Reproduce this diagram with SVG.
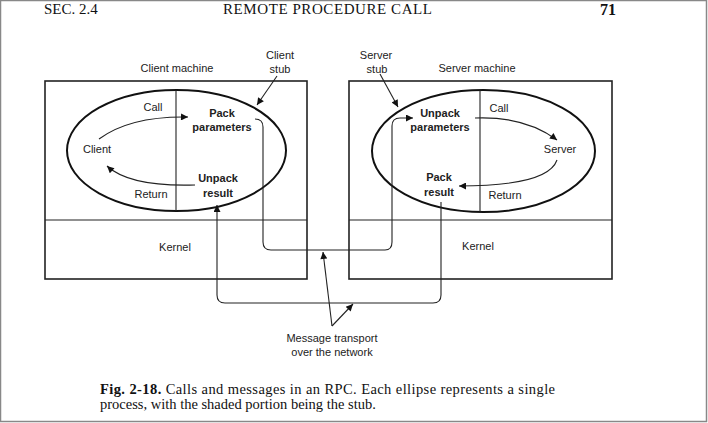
<svg xmlns="http://www.w3.org/2000/svg" width="708" height="423" viewBox="0 0 708 423">
<defs>
<marker id="ah" viewBox="0 0 10 10" refX="10" refY="5" markerWidth="9" markerHeight="7" markerUnits="userSpaceOnUse" orient="auto">
<path d="M0,0 L10,5 L0,10 z" fill="#111"/>
</marker>
<style>
.box{fill:none;stroke:#222;stroke-width:1.6}
.thin{fill:none;stroke:#222;stroke-width:1.1}
.ell{fill:none;stroke:#111;stroke-width:2}
.con{fill:none;stroke:#222;stroke-width:1.1}
.arr{fill:none;stroke:#222;stroke-width:1.1;marker-end:url(#ah)}
.lbl{font-family:"Liberation Sans",Arial,sans-serif;font-size:11px;fill:#222;text-anchor:middle}
.b{font-weight:bold}
.hdr{font-family:"Liberation Serif","Times New Roman",serif;font-size:15px;fill:#111}
.cap{font-family:"Liberation Serif","Times New Roman",serif;font-size:14.5px;fill:#111}
</style>
</defs>
<rect x="0.5" y="0.5" width="706" height="421" fill="#fff" stroke="#888" stroke-width="1.5"/>
<g id="header">
<text class="hdr" x="44" y="14">SEC.  2.4</text>
<text class="hdr" x="223" y="14" textLength="209">REMOTE PROCEDURE CALL</text>
<text class="hdr" x="600" y="15" style="font-weight:bold;font-size:16px">71</text>
</g>
<g id="client-machine">
<rect class="box" x="45" y="81" width="262" height="198"/>
<line class="thin" x1="45" y1="220" x2="307" y2="220"/>
<text class="lbl" x="177" y="72">Client machine</text>
<text class="lbl" x="175" y="251">Kernel</text>
</g>
<g id="client-process">
<ellipse class="ell" cx="176.5" cy="150.5" rx="109.5" ry="60.5"/>
<line class="thin" x1="176" y1="90" x2="176" y2="211"/>
<text class="lbl" x="97" y="153">Client</text>
<text class="lbl" x="153" y="111">Call</text>
<text class="lbl" x="151" y="198">Return</text>
<text class="lbl b" x="222" y="117">Pack</text>
<text class="lbl b" x="222" y="131">parameters</text>
<text class="lbl b" x="218" y="182">Unpack</text>
<text class="lbl b" x="218" y="197">result</text>
</g>
<g id="client-stub">
<text class="lbl" x="280" y="59">Client</text>
<text class="lbl" x="280" y="73">stub</text>
</g>
<g id="server-machine">
<rect class="box" x="349" y="81" width="263" height="198"/>
<line class="thin" x1="349" y1="220" x2="612" y2="220"/>
<text class="lbl" x="477" y="72">Server machine</text>
<text class="lbl" x="478" y="250">Kernel</text>
</g>
<g id="server-process">
<ellipse class="ell" cx="483.5" cy="151" rx="111.5" ry="61"/>
<line class="thin" x1="480" y1="90" x2="480" y2="212"/>
<text class="lbl" x="560" y="153">Server</text>
<text class="lbl" x="499" y="112">Call</text>
<text class="lbl" x="505" y="199">Return</text>
<text class="lbl b" x="440" y="117">Unpack</text>
<text class="lbl b" x="440" y="131">parameters</text>
<text class="lbl b" x="439" y="181">Pack</text>
<text class="lbl b" x="439" y="196">result</text>
</g>
<g id="server-stub">
<text class="lbl" x="376" y="59">Server</text>
<text class="lbl" x="377" y="73">stub</text>
</g>
<g id="network-label">
<text class="lbl" x="332" y="342">Message transport</text>
<text class="lbl" x="332" y="356">over the network</text>
</g>
<g id="connectors">
<path class="arr" d="M99,139 Q130,116 188,117"/>
<path class="arr" d="M195,185 Q130,187 107,166"/>
<path class="arr" d="M475,118 Q525,116 557,140"/>
<path class="arr" d="M557,160 Q548,186 459,186"/>
<path class="arr" d="M255,119 Q263,119 263,127 V242 Q263,250 271,250 H385 Q392,250 392,242 V126 Q392,118 400,118 H413"/>
<path class="arr" d="M441,202 V295 Q441,303 433,303 H225 Q217,303 217,295 V205"/>
<path class="arr" d="M277,76 L257,105"/>
<path class="arr" d="M380,74 L398,107"/>
<path class="arr" d="M332,326 L323,252"/>
<path class="arr" d="M332,326 L353,304"/>
</g>
<g id="caption">
<text class="cap" x="100" y="394" textLength="455" lengthAdjust="spacing"><tspan font-weight="bold">Fig.  2-18.</tspan> Calls and messages in an RPC.  Each ellipse represents a single</text>
<text class="cap" x="100" y="409">process, with the shaded portion being the stub.</text>
</g>
</svg>
